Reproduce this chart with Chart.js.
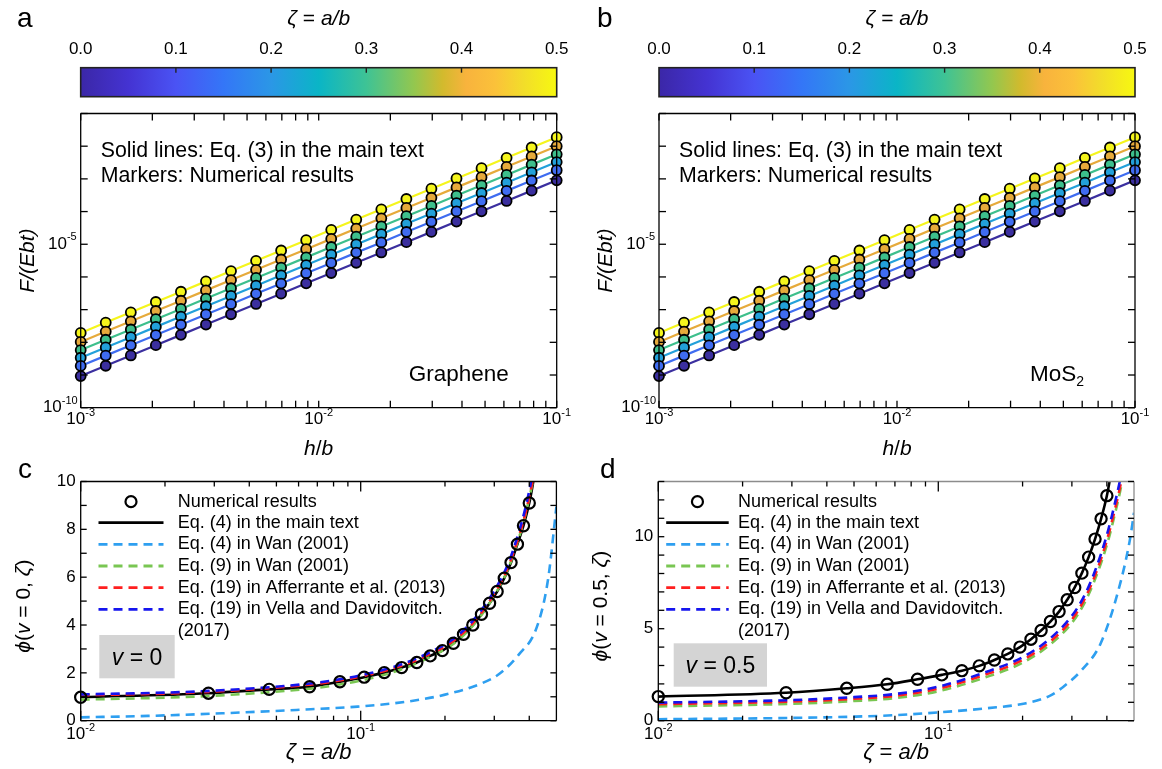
<!DOCTYPE html>
<html><head><meta charset="utf-8">
<script src="https://cdn.jsdelivr.net/npm/chart.js@4.4.1/dist/chart.umd.min.js"></script>
<style>
html,body{margin:0;padding:0;background:#fff}
#wrap{position:relative;width:1162px;height:769px;overflow:hidden;background:#fff}
#wrap canvas{position:absolute;left:0;top:0}
</style></head><body><div id="wrap">
<canvas id="cbA" width="1162" height="769"></canvas>
<canvas id="cbB" width="1162" height="769"></canvas>
<canvas id="pA" width="1162" height="769"></canvas>
<canvas id="pB" width="1162" height="769"></canvas>
<canvas id="pC" width="1162" height="769"></canvas>
<canvas id="pD" width="1162" height="769"></canvas>
</div>
<script>
const W = 1162, H = 769;
const FONT = '"Liberation Sans", Arial, sans-serif';

// ---------- DATA: panels a & b (F/(Ebt) vs h/b) ----------
const hOverB = [0.001, 0.001274, 0.001624, 0.002069, 0.002637, 0.00336, 0.004281, 0.005455, 0.006952, 0.008859,
  0.01129, 0.01438, 0.01833, 0.02336, 0.02976, 0.03793, 0.04833, 0.06158, 0.07848, 0.1];
const F_zeta0 = [9.29e-10, 1.92e-9, 3.96e-9, 8.18e-9, 1.69e-8, 3.50e-8, 7.23e-8, 1.49e-7, 3.08e-7, 6.37e-7,
  1.32e-6, 2.72e-6, 5.61e-6, 1.16e-5, 2.39e-5, 4.95e-5, 1.02e-4, 2.11e-4, 4.37e-4, 9.02e-4];
const F_zeta1 = [1.90e-9, 3.92e-9, 8.08e-9, 1.67e-8, 3.45e-8, 7.14e-8, 1.47e-7, 3.04e-7, 6.28e-7, 1.30e-6,
  2.69e-6, 5.55e-6, 1.14e-5, 2.37e-5, 4.88e-5, 1.01e-4, 2.08e-4, 4.30e-4, 8.91e-4, 1.84e-3];
const F_zeta2 = [3.37e-9, 6.97e-9, 1.44e-8, 2.97e-8, 6.13e-8, 1.27e-7, 2.62e-7, 5.41e-7, 1.12e-6, 2.31e-6,
  4.79e-6, 9.87e-6, 2.04e-5, 4.21e-5, 8.68e-5, 1.80e-4, 3.70e-4, 7.66e-4, 1.59e-3, 3.27e-3];
const F_zeta3 = [5.80e-9, 1.20e-8, 2.47e-8, 5.10e-8, 1.05e-7, 2.18e-7, 4.51e-7, 9.30e-7, 1.92e-6, 3.97e-6,
  8.24e-6, 1.70e-5, 3.50e-5, 7.24e-5, 1.49e-4, 3.09e-4, 6.36e-4, 1.32e-3, 2.73e-3, 5.63e-3];
const F_zeta4 = [1.03e-8, 2.13e-8, 4.39e-8, 9.07e-8, 1.87e-7, 3.88e-7, 8.02e-7, 1.65e-6, 3.42e-6, 7.06e-6,
  1.46e-5, 3.02e-5, 6.22e-5, 1.29e-4, 2.65e-4, 5.49e-4, 1.13e-3, 2.34e-3, 4.85e-3, 1.00e-2];
const F_zeta5 = [1.94e-8, 4.01e-8, 8.28e-8, 1.71e-7, 3.53e-7, 7.32e-7, 1.51e-6, 3.11e-6, 6.44e-6, 1.33e-5,
  2.76e-5, 5.68e-5, 1.17e-4, 2.42e-4, 5.00e-4, 1.03e-3, 2.13e-3, 4.41e-3, 9.13e-3, 1.89e-2];
const seriesZeta = [0.0, 0.1, 0.2, 0.3, 0.4, 0.5];
const seriesColors = ['#3b2f9f', '#3f6cf0', '#22a0da', '#3dbf8c', '#e6aa3b', '#f5f51c'];
const colorbarTicks = [0.0, 0.1, 0.2, 0.3, 0.4, 0.5];
const colorbarLabels = ['0.0', '0.1', '0.2', '0.3', '0.4', '0.5'];
const zetaRange = [0, 0.5];

// ---------- DATA: panel c (nu = 0) ----------
const zetaNum = [0.01, 0.0286, 0.0471, 0.0657, 0.0843, 0.1029, 0.1214, 0.14, 0.1586, 0.1771, 0.1957,
  0.2143, 0.2329, 0.2514, 0.27, 0.2886, 0.3071, 0.3257, 0.3443, 0.3629, 0.3814, 0.4];
const phiNum_nu0 = [0.98, 1.15, 1.31, 1.42, 1.63, 1.82, 2.01, 2.22, 2.43, 2.71, 2.93,
  3.24, 3.61, 4.00, 4.45, 4.91, 5.40, 5.96, 6.61, 7.38, 8.15, 9.10];
const zetaMain_nu0 = [0.01, 0.0286, 0.0471, 0.0657, 0.0843, 0.1029, 0.1214, 0.14, 0.1586, 0.1771, 0.1957,
  0.2143, 0.2329, 0.2514, 0.27, 0.2886, 0.3071, 0.3257, 0.3443, 0.3629, 0.3814, 0.4, 0.41, 0.42, 0.43];
const phiMain_nu0 = [0.98, 1.15, 1.31, 1.42, 1.63, 1.82, 2.01, 2.22, 2.43, 2.71, 2.93,
  3.24, 3.61, 4.00, 4.45, 4.91, 5.40, 5.96, 6.61, 7.38, 8.15, 9.10, 9.75, 10.5, 11.3];
const zetaCurve_nu0 = [0.01, 0.0208, 0.0317, 0.0533, 0.075, 0.1075, 0.14, 0.1725, 0.2158, 0.2592, 0.3025, 0.335, 0.3675, 0.3892, 0.4108, 0.4217, 0.4325];
const phiWan9_nu0   = [0.88, 0.97, 1.06, 1.24, 1.42, 1.76, 2.15, 2.60, 3.24, 4.15, 5.30, 6.30, 7.65, 8.70, 9.95, 10.7, 11.5];
const phiAff_nu0    = [1.06, 1.14, 1.23, 1.41, 1.59, 1.93, 2.30, 2.73, 3.36, 4.25, 5.38, 6.38, 7.72, 8.75, 10.0, 10.75, 11.5];
const phiVella_nu0  = [1.10, 1.18, 1.27, 1.45, 1.64, 1.98, 2.36, 2.80, 3.45, 4.36, 5.50, 6.52, 7.90, 8.98, 10.3, 11.05, 11.9];
const zetaWan4_nu0 = [0.01, 0.0174, 0.032, 0.0589, 0.0975, 0.1468, 0.1985, 0.2704, 0.3147, 0.3663, 0.4262, 0.4666, 0.4963, 0.5];
const phiWan4_nu0  = [0.14, 0.20, 0.31, 0.45, 0.59, 0.80, 1.08, 1.56, 1.98, 2.75, 3.93, 5.89, 8.60, 8.95];

// ---------- DATA: panel d (nu = 0.5) ----------
const phiNum_nu05 = [1.31, 1.52, 1.76, 1.98, 2.25, 2.49, 2.72, 2.98, 3.30, 3.63, 4.00,
  4.43, 4.90, 5.39, 5.93, 6.57, 7.24, 8.02, 8.89, 9.87, 10.97, 12.23];
const zetaMain_nu05 = [0.01, 0.0286, 0.0471, 0.0657, 0.0843, 0.1029, 0.1214, 0.14, 0.1586, 0.1771, 0.1957,
  0.2143, 0.2329, 0.2514, 0.27, 0.2886, 0.3071, 0.3257, 0.3443, 0.3629, 0.3814, 0.4, 0.41, 0.42];
const phiMain_nu05 = [1.31, 1.52, 1.76, 1.98, 2.25, 2.49, 2.72, 2.98, 3.30, 3.63, 4.00,
  4.43, 4.90, 5.39, 5.93, 6.57, 7.24, 8.02, 8.89, 9.87, 10.97, 12.23, 13.1, 14.1];
const zetaCurve_nu05 = [0.01, 0.03, 0.05, 0.07, 0.1, 0.145, 0.2, 0.25, 0.3, 0.33, 0.36, 0.4, 0.43, 0.45, 0.46];
const phiVella_nu05 = [0.98, 1.12, 1.28, 1.45, 1.85, 2.60, 3.45, 4.45, 5.70, 6.70, 8.00, 10.1, 12.0, 13.4, 14.3];
const phiAff_nu05   = [0.90, 1.04, 1.19, 1.35, 1.74, 2.47, 3.30, 4.28, 5.50, 6.50, 7.75, 9.80, 11.65, 13.0, 13.9];
const phiWan9_nu05  = [0.78, 0.92, 1.07, 1.23, 1.60, 2.32, 3.15, 4.12, 5.32, 6.30, 7.55, 9.55, 11.4, 12.75, 13.6];
const zetaWan4_nu05 = [0.01, 0.03, 0.05, 0.07, 0.1, 0.15, 0.206, 0.25, 0.28, 0.3256, 0.38, 0.44, 0.483, 0.5];
const phiWan4_nu05  = [0.08, 0.15, 0.22, 0.30, 0.45, 0.68, 0.95, 1.35, 1.85, 2.76, 4.20, 7.10, 9.80, 11.3];

const legendLabels = ['Numerical results', 'Eq. (4) in the main text', 'Eq. (4) in Wan (2001)', 'Eq. (9) in Wan (2001)',
  'Eq. (19) in Afferrante et al. (2013)', 'Eq. (19) in Vella and Davidovitch.', '(2017)'];
const lineColors = {main: '#000000', wan4: '#2e9ff0', wan9: '#79c652', aff: '#ff1f1f', vella: '#1515ee'};

// ---------- helpers ----------
const pts = (xs, ys) => xs.map((x, i) => ({x: x, y: ys[i]}));
function rich(ctx, segs, x, y, size, align) {
  let total = 0; const ws = [];
  for (const [t, it] of segs) { ctx.font = (it ? 'italic ' : '') + size + 'px ' + FONT; const w = ctx.measureText(t).width; ws.push(w); total += w; }
  let cx = align === 'center' ? x - total / 2 : (align === 'right' ? x - total : x);
  ctx.textAlign = 'left';
  segs.forEach(([t, it], i) => { ctx.font = (it ? 'italic ' : '') + size + 'px ' + FONT; ctx.fillText(t, cx, y); cx += ws[i]; });
}
function pow10(ctx, exp, x, yMid, align, size) {
  ctx.textBaseline = 'middle'; ctx.textAlign = 'left';
  ctx.font = size + 'px ' + FONT; const w1 = ctx.measureText('10').width;
  const es = Math.round(size * 0.64);
  ctx.font = es + 'px ' + FONT; const w2 = ctx.measureText(exp).width;
  const tot = w1 + w2;
  const sx = align === 'center' ? x - tot / 2 : x - tot;
  ctx.font = size + 'px ' + FONT; ctx.fillText('10', sx, yMid);
  ctx.font = es + 'px ' + FONT; ctx.fillText(exp, sx + w1, yMid - size * 0.42);
  ctx.textBaseline = 'alphabetic';
}
function line(ctx, x1, y1, x2, y2) { ctx.beginPath(); ctx.moveTo(x1, y1); ctx.lineTo(x2, y2); ctx.stroke(); }
function baseOptions(area, xs, ys) {
  return {
    responsive: false, animation: false, devicePixelRatio: 1, events: [],
    layout: {padding: {left: area.l, top: area.t, right: W - area.r, bottom: H - area.b}},
    plugins: {legend: {display: false}, tooltip: {enabled: false}, title: {display: false}},
    scales: {x: Object.assign({display: false}, xs), y: Object.assign({display: false}, ys)}
  };
}
function frameAndTicks(ctx, a, x, y, xt, yt, trColor) {
  ctx.save();
  ctx.lineWidth = 1.3; ctx.strokeStyle = '#000';
  line(ctx, a.left, a.bottom, a.right, a.bottom); line(ctx, a.left, a.top, a.left, a.bottom);
  ctx.strokeStyle = trColor || '#000';
  line(ctx, a.left, a.top, a.right, a.top); line(ctx, a.right, a.top, a.right, a.bottom);
  ctx.strokeStyle = '#000';
  for (const t of xt) { const p = x.getPixelForValue(t.v); line(ctx, p, a.bottom, p, a.bottom - t.len); line(ctx, p, a.top, p, a.top + t.len); }
  for (const t of yt) { const p = y.getPixelForValue(t.v); line(ctx, a.left, p, a.left + t.len, p); line(ctx, a.right, p, a.right - t.len, p); }
  ctx.restore();
}

// ---------- colorbars ----------
const cbStops = [[0, '#3b27a7'], [0.1, '#4433d2'], [0.2, '#4a53f4'], [0.3, '#3476f7'], [0.4, '#2b97e6'], [0.5, '#0ab5c6'],
  [0.6, '#3ec395'], [0.7, '#93c74f'], [0.76, '#d2ba2d'], [0.81, '#f8b33d'], [0.87, '#fbc13a'], [0.93, '#f2dd2a'], [1.0, '#f7f810']];
function makeColorbar(id, area, centerX) {
  const plug = {
    id: 'cb' + id,
    afterDraw(chart) {
      const {ctx, chartArea: a} = chart; const x = chart.scales.x;
      ctx.save();
      ctx.strokeStyle = '#222'; ctx.lineWidth = 1.6;
      ctx.strokeRect(a.left, a.top, a.right - a.left, a.bottom - a.top);
      ctx.lineWidth = 1.4;
      colorbarTicks.forEach((v, i) => { if (i > 0 && i < colorbarTicks.length - 1) { const p = x.getPixelForValue(v); line(ctx, p, a.top, p, a.top + 5); } });
      ctx.fillStyle = '#000'; ctx.textBaseline = 'middle';
      colorbarTicks.forEach((v, i) => { ctx.font = '17px ' + FONT; ctx.textAlign = 'center'; ctx.fillText(colorbarLabels[i], x.getPixelForValue(v), 49); });
      ctx.textBaseline = 'alphabetic';
      rich(ctx, [['ζ', true], [' = ', false], ['a/b', true]], centerX, 25, 21, 'center');
      ctx.restore();
    }
  };
  const opts = baseOptions(area, {type: 'linear', min: zetaRange[0], max: zetaRange[1]}, {type: 'category'});
  opts.indexAxis = 'y';
  return new Chart(document.getElementById(id), {
    type: 'bar',
    data: {labels: ['ζ'], datasets: [{data: [zetaRange], borderWidth: 0, barPercentage: 1, categoryPercentage: 1,
      backgroundColor: (c) => { const a = c.chart.chartArea; if (!a) return '#888'; const g = c.chart.ctx.createLinearGradient(a.left, 0, a.right, 0); cbStops.forEach(s => g.addColorStop(s[0], s[1])); return g; }}]},
    options: opts, plugins: [plug]
  });
}

// ---------- panels a, b ----------
const Fseries = [F_zeta0, F_zeta1, F_zeta2, F_zeta3, F_zeta4, F_zeta5];
function makeForcePanel(id, area, letter, letterX, material) {
  const xt = [];
  [1e-3, 1e-2].forEach(d => { for (let m = 1; m <= 9; m++) xt.push({v: d * m, len: 7}); });
  xt.push({v: 1e-1, len: 7});
  const yDec = [1e-10, 1e-9, 1e-8, 1e-7, 1e-6, 1e-5, 1e-4, 1e-3, 1e-2, 1e-1];
  const yt = yDec.map(v => ({v: v, len: 7}));
  const plug = {
    id: 'f' + id,
    afterDraw(chart) {
      const {ctx, chartArea: a} = chart; const {x, y} = chart.scales;
      frameAndTicks(ctx, a, x, y, xt, yt);
      ctx.save(); ctx.fillStyle = '#000';
      pow10(ctx, '-3', x.getPixelForValue(1e-3), a.bottom + 12, 'center', 17);
      pow10(ctx, '-2', x.getPixelForValue(1e-2), a.bottom + 12, 'center', 17);
      pow10(ctx, '-1', x.getPixelForValue(1e-1), a.bottom + 12, 'center', 17);
      pow10(ctx, '-10', a.left - 3, y.getPixelForValue(1e-10), 'right', 17);
      pow10(ctx, '-5', a.left - 4, y.getPixelForValue(1e-5), 'right', 17);
      const cx = (a.left + a.right) / 2;
      rich(ctx, [['h', true], ['/', false], ['b', true]], cx, 455, 21, 'center');
      ctx.save(); ctx.translate(a.left - 47, (a.top + a.bottom) / 2); ctx.rotate(-Math.PI / 2);
      rich(ctx, [['F/(Ebt)', true]], 0, 0, 21, 'center'); ctx.restore();
      ctx.font = '21.3px ' + FONT; ctx.textAlign = 'left';
      ctx.fillText('Solid lines: Eq. (3) in the main text', a.left + 20, 157);
      ctx.fillText('Markers: Numerical results', a.left + 20, 182);
      ctx.font = '22.5px ' + FONT;
      if (material === 'G') ctx.fillText('Graphene', a.left + 328, 381);
      else { ctx.fillText('MoS', a.left + 371, 381); const w = ctx.measureText('MoS').width; ctx.font = '14px ' + FONT; ctx.fillText('2', a.left + 371 + w, 386); }
      ctx.font = '28px ' + FONT; ctx.fillText(letter, letterX, 27);
      ctx.restore();
    }
  };
  const ds = Fseries.map((s, i) => ({
    data: pts(hOverB, s), showLine: true, borderColor: seriesColors[i], borderWidth: 2.2,
    pointRadius: 5, pointBackgroundColor: seriesColors[i], pointBorderColor: '#000', pointBorderWidth: 1.8,
    clip: false, order: i
  }));
  return new Chart(document.getElementById(id), {
    type: 'scatter', data: {datasets: ds},
    options: baseOptions(area, {type: 'logarithmic', min: 1e-3, max: 1e-1}, {type: 'logarithmic', min: 1e-10, max: 1e-1}),
    plugins: [plug]
  });
}

// ---------- panels c, d ----------
function makePhiPanel(id, area, cfg) {
  const xt = [];
  [0.01, 0.1].forEach(v => xt.push({v: v, len: 10}));
  [0.02, 0.03, 0.04, 0.05, 0.06, 0.07, 0.08, 0.09, 0.2, 0.3, 0.4].forEach(v => xt.push({v: v, len: 5}));
  const yt = []; for (let v = 0; v <= cfg.ymax; v++) yt.push({v: v, len: 6});
  const plug = {
    id: 'p' + id,
    afterDraw(chart) {
      const {ctx, chartArea: a} = chart; const {x, y} = chart.scales;
      frameAndTicks(ctx, a, x, y, xt, yt, cfg.trColor);
      ctx.save(); ctx.fillStyle = '#000';
      ctx.font = '17px ' + FONT; ctx.textAlign = 'right'; ctx.textBaseline = 'middle';
      cfg.yLabels.forEach(v => ctx.fillText(String(v), a.left - 5, y.getPixelForValue(v)));
      pow10(ctx, '-2', x.getPixelForValue(0.01), a.bottom + 14, 'center', 17);
      pow10(ctx, '-1', x.getPixelForValue(0.1), a.bottom + 14, 'center', 17);
      const cx = (a.left + a.right) / 2;
      rich(ctx, [['ζ', true], [' = ', false], ['a/b', true]], cx, 759, 22, 'center');
      ctx.save(); ctx.translate(a.left - 51, (a.top + a.bottom) / 2 + 5); ctx.rotate(-Math.PI / 2);
      rich(ctx, [['ϕ', true], ['(', false], ['v', true], [' = ' + cfg.nu + ', ', false], ['ζ', true], [')', false]], 0, 0, 21, 'center');
      ctx.restore();
      // legend
      const L = cfg.leg; const rows = [501.7, 522.7, 544.3, 566, 587.7, 609.3, 631];
      ctx.lineWidth = 2.2; ctx.strokeStyle = '#000';
      ctx.beginPath(); ctx.arc((L.x1 + L.x2) / 2, rows[0], 5.5, 0, Math.PI * 2); ctx.stroke();
      ctx.lineWidth = 2.8; line(ctx, L.x1, rows[1], L.x2, rows[1]);
      const dashCols = [lineColors.wan4, lineColors.wan9, lineColors.aff, lineColors.vella];
      ctx.setLineDash([9, 6]);
      dashCols.forEach((c, i) => { ctx.strokeStyle = c; line(ctx, L.x1, rows[2 + i], L.x2, rows[2 + i]); });
      ctx.setLineDash([]);
      ctx.font = '18px ' + FONT; ctx.textAlign = 'left'; ctx.textBaseline = 'middle'; ctx.fillStyle = '#000';
      legendLabels.forEach((t, i) => ctx.fillText(t, L.tx, rows[i]));
      // nu box
      const B = cfg.box; ctx.fillStyle = '#d4d4d4'; ctx.fillRect(B.l, B.t, B.r - B.l, B.b - B.t);
      ctx.fillStyle = '#000'; ctx.textBaseline = 'alphabetic';
      rich(ctx, [['v', true], [' = ' + cfg.nu, false]], (B.l + B.r) / 2, (B.t + B.b) / 2 + 8, 23, 'center');
      ctx.font = '28px ' + FONT; ctx.textAlign = 'left'; ctx.fillText(cfg.letter, cfg.letterX, 478);
      ctx.restore();
    }
  };
  const clipC = {left: false, top: 0, right: 0, bottom: false};
  const dash = (xs, ys, col, ord) => ({data: pts(xs, ys), showLine: true, borderColor: col, borderWidth: 2.6, borderDash: [9, 6],
    pointRadius: 0, cubicInterpolationMode: 'monotone', clip: clipC, order: ord});
  const ds = [
    {data: pts(zetaNum, cfg.num), showLine: false, pointRadius: 5.6, pointBorderWidth: 2.2, pointBorderColor: '#000',
      pointBackgroundColor: 'rgba(0,0,0,0)', clip: clipC, order: 0},
    dash(cfg.zc, cfg.vella, lineColors.vella, 1),
    dash(cfg.zc, cfg.aff, lineColors.aff, 2),
    dash(cfg.zc, cfg.wan9, lineColors.wan9, 3),
    {data: pts(cfg.zm, cfg.main), showLine: true, borderColor: '#000', borderWidth: 2.6, pointRadius: 0,
      cubicInterpolationMode: 'monotone', clip: clipC, order: 4},
    dash(cfg.zw, cfg.wan4, lineColors.wan4, 5)
  ];
  return new Chart(document.getElementById(id), {
    type: 'scatter', data: {datasets: ds},
    options: baseOptions(area, {type: 'logarithmic', min: 0.01, max: 0.5}, {type: 'linear', min: 0, max: cfg.ymax}),
    plugins: [plug]
  });
}

makeColorbar('cbA', {l: 80.7, r: 556.7, t: 67.7, b: 96.7}, 318.7);
makeColorbar('cbB', {l: 659, r: 1135, t: 67.7, b: 96.7}, 897);
makeForcePanel('pA', {l: 80.7, r: 556.7, t: 113.5, b: 407.7}, 'a', 17, 'G');
makeForcePanel('pB', {l: 659, r: 1135, t: 113.5, b: 407.7}, 'b', 597, 'M');
makePhiPanel('pC', {l: 80.7, r: 556.4, t: 481.5, b: 720.7}, {
  ymax: 10, yLabels: [0, 2, 4, 6, 8, 10], nu: '0', letter: 'c', letterX: 18,
  num: phiNum_nu0, zm: zetaMain_nu0, main: phiMain_nu0, zc: zetaCurve_nu0, vella: phiVella_nu0, aff: phiAff_nu0, wan9: phiWan9_nu0,
  zw: zetaWan4_nu0, wan4: phiWan4_nu0,
  leg: {x1: 98.5, x2: 163.5, tx: 177.7}, box: {l: 99.3, r: 174.7, t: 635, b: 678.3}
});
makePhiPanel('pD', {l: 658.3, r: 1134, t: 481.5, b: 720.7}, {
  ymax: 13, yLabels: [0, 5, 10], nu: '0.5', letter: 'd', letterX: 600, trColor: '#8c8c8c',
  num: phiNum_nu05, zm: zetaMain_nu05, main: phiMain_nu05, zc: zetaCurve_nu05, vella: phiVella_nu05, aff: phiAff_nu05, wan9: phiWan9_nu05,
  zw: zetaWan4_nu05, wan4: phiWan4_nu05,
  leg: {x1: 666.2, x2: 728.7, tx: 738}, box: {l: 673.7, r: 767, t: 643.3, b: 686.7}
});
</script></body></html>
